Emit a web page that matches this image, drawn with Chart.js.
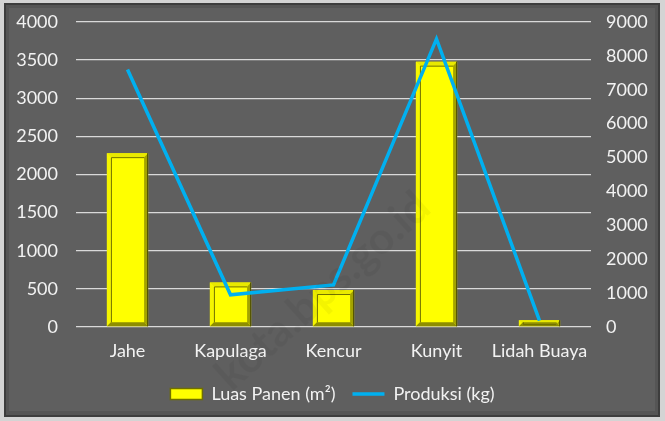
<!DOCTYPE html>
<html>
<head>
<meta charset="utf-8">
<script src="https://cdn.jsdelivr.net/npm/chart.js@4"></script>
<style>
html, body { margin: 0; padding: 0; background: #d4d4d4; }
#wrap { width: 665px; height: 421px; }
</style>
</head>
<body>
<div id="wrap"><canvas id="myChart" width="665" height="421"></canvas></div>
<script>
// data
const categories = ["Jahe", "Kapulaga", "Kencur", "Kunyit", "Lidah Buaya"];
const luasPanen = [2280, 585, 485, 3480, 90];      // m2, left axis
const produksi = [7600, 950, 1240, 8500, 190];     // kg, right axis
const leftTicks = [0, 500, 1000, 1500, 2000, 2500, 3000, 3500, 4000];
const rightTicks = [0, 1000, 2000, 3000, 4000, 5000, 6000, 7000, 8000, 9000];

const ctx = document.getElementById('myChart');
const txt = '#f2f2f2';
const font = { family: 'Lato, "Open Sans", sans-serif', size: 18 };

// grey frame behind the chart
const framePlugin = {
  id: 'frame',
  beforeDraw(chart) {
    const c = chart.ctx, w = chart.width, h = chart.height;
    c.save();
    c.fillStyle = '#d4d4d4';
    c.fillRect(0, 0, w, h);
    c.fillStyle = '#3d3d3d';
    c.fillRect(4, 3, w - 9, h - 7);
    c.fillStyle = '#555555';
    c.fillRect(6, 5, w - 13, h - 11);
    c.fillStyle = '#5f5f5f';
    c.fillRect(9, 8, w - 19, h - 18);
    c.restore();
  }
};

// bevel look on the yellow bars
const bevelPlugin = {
  id: 'bevel',
  afterDatasetDraw(chart, args) {
    if (args.index !== 0) return;
    const c = chart.ctx;
    const b = 4;
    chart.getDatasetMeta(0).data.forEach(bar => {
      const l = bar.x - bar.width / 2, r = bar.x + bar.width / 2;
      const t = bar.y, btm = bar.base;
      const quad = (pts, col) => {
        c.beginPath();
        c.moveTo(pts[0][0], pts[0][1]);
        for (let i = 1; i < pts.length; i++) c.lineTo(pts[i][0], pts[i][1]);
        c.closePath();
        c.fillStyle = col;
        c.fill();
      };
      c.save();
      quad([[l, t], [r, t], [r - b, t + b], [l + b, t + b]], '#e9e900');
      quad([[l, t], [l + b, t + b], [l + b, btm - b], [l, btm]], '#f5f500');
      quad([[r, t], [r, btm], [r - b, btm - b], [r - b, t + b]], '#a3a300');
      quad([[l, btm], [r, btm], [r - b, btm - b], [l + b, btm - b]], '#8e8e00');
      c.strokeStyle = '#6f6f00';
      c.lineWidth = 1;
      c.beginPath();
      c.moveTo(l + b + 0.5, btm - b);
      c.lineTo(l + b + 0.5, t + b + 0.5);
      c.lineTo(r - b, t + b + 0.5);
      c.stroke();
      c.strokeStyle = '#505000';
      c.beginPath();
      c.moveTo(r - 0.5, t);
      c.lineTo(r - 0.5, btm);
      c.stroke();
      c.restore();
    });
  }
};

// faint watermark
const markPlugin = {
  id: 'mark',
  afterDraw(chart) {
    const c = chart.ctx;
    c.save();
    c.translate(323, 291);
    c.rotate(-42 * Math.PI / 180);
    c.font = 'bold 44px Lato, sans-serif';
    c.textAlign = 'center';
    c.textBaseline = 'middle';
    c.fillStyle = 'rgba(0,0,0,0.045)';
    c.fillText('kota.bps.go.id', 0, 0);
    c.restore();
  }
};

const plain = v => String(v);

new Chart(ctx, {
  data: {
    labels: categories,
    datasets: [{
      type: 'bar',
      label: 'Luas Panen (m²)',
      data: luasPanen,
      backgroundColor: '#ffff00',
      borderWidth: 0,
      barPercentage: 0.4,
      categoryPercentage: 1,
      yAxisID: 'y',
      order: 1
    }, {
      type: 'line',
      label: 'Produksi (kg)',
      data: produksi,
      borderColor: '#00b0f0',
      backgroundColor: '#00b0f0',
      borderWidth: 3.5,
      pointRadius: 0,
      tension: 0,
      yAxisID: 'y1',
      order: 0
    }]
  },
  options: {
    responsive: false,
    animation: false,
    layout: { padding: { top: 22, left: 0, right: 0, bottom: 8 } },
    plugins: {
      tooltip: { enabled: false },
      legend: {
        position: 'bottom',
        labels: {
          color: txt,
          font: font,
          usePointStyle: true,
          pointStyleWidth: 32,
          boxHeight: 11,
          padding: 17,
          generateLabels(chart) {
            const items = Chart.defaults.plugins.legend.labels.generateLabels(chart);
            items.sort((a, b) => a.datasetIndex - b.datasetIndex);
            items[0].pointStyle = 'rect';
            items[0].strokeStyle = '#6f6f00';
            items[0].lineWidth = 1.5;
            items[1].pointStyle = 'line';
            items[1].lineWidth = 3.5;
            return items;
          }
        }
      }
    },
    scales: {
      x: {
        grid: { display: false },
        border: { display: false },
        ticks: { color: txt, font: font, padding: 5 },
        afterFit(scale) { scale.height = 41; }
      },
      y: {
        position: 'left',
        min: 0,
        max: 4000,
        afterBuildTicks(scale) { scale.ticks = leftTicks.map(v => ({ value: v })); },
        grid: { color: '#d9d9d9', lineWidth: 1.3, drawTicks: false },
        border: { display: false },
        ticks: { color: txt, font: font, padding: 18, callback: plain },
        afterFit(scale) { scale.width = 76; scale.paddingTop = 0; scale.paddingBottom = 0; }
      },
      y1: {
        position: 'right',
        min: 0,
        max: 9000,
        afterBuildTicks(scale) { scale.ticks = rightTicks.map(v => ({ value: v })); },
        grid: { display: false, drawTicks: false },
        border: { display: false },
        ticks: { color: txt, font: font, padding: 15, callback: plain },
        afterFit(scale) { scale.width = 74; scale.paddingTop = 0; scale.paddingBottom = 0; }
      }
    }
  },
  plugins: [framePlugin, bevelPlugin, markPlugin]
});
</script>
</body>
</html>
